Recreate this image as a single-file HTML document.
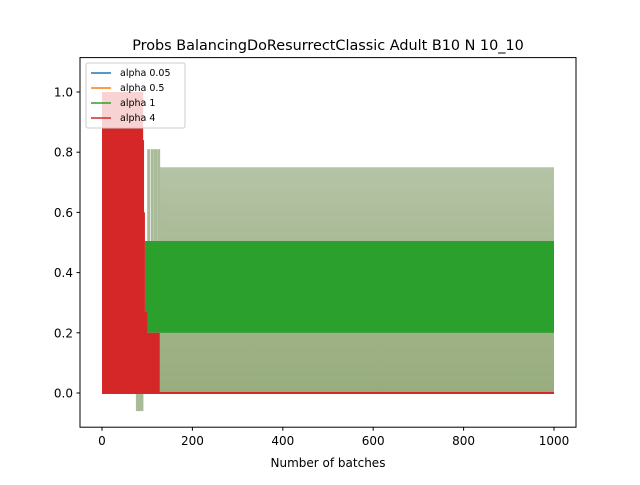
<!DOCTYPE html>
<html><head><meta charset="utf-8"><style>
body{margin:0;background:#fff;font-family:"Liberation Sans","DejaVu Sans",sans-serif}
svg text{font-family:"DejaVu Sans","Liberation Sans",sans-serif}
</style></head><body>
<svg id="chart" width="640" height="480" xmlns="http://www.w3.org/2000/svg">
<defs>
<linearGradient id="bandg" x1="0" y1="0" x2="0" y2="1">
<stop offset="0" stop-color="#b5c4a6"/><stop offset="0.5" stop-color="#a4b68f"/><stop offset="1" stop-color="#98ad7e"/>
</linearGradient>
</defs>
<rect width="640" height="480" fill="#fff"/>
<text x="328" y="50" font-size="14.4" text-anchor="middle">Probs BalancingDoResurrectClassic Adult B10 N 10_10</text>
<g id="plot"></g>
<g id="axes"></g>
<rect x="80" y="57.6" width="496" height="369.6" fill="none" stroke="#000" stroke-width="1"/>
<text x="328" y="467" font-size="12" text-anchor="middle">Number of batches</text>
<g>
<rect x="86" y="63" width="99" height="65" fill="#fff" fill-opacity="0.8" stroke="#ccc" rx="2"/>
<line x1="91" y1="73" x2="111" y2="73" stroke="#1f77b4" stroke-width="1.5"/><text x="120" y="76" font-size="9.5">alpha 0.05</text>
<line x1="91" y1="88" x2="111" y2="88" stroke="#ff7f0e" stroke-width="1.5"/><text x="120" y="91" font-size="9.5">alpha 0.5</text>
<line x1="91" y1="103" x2="111" y2="103" stroke="#2ca02c" stroke-width="1.5"/><text x="120" y="106" font-size="9.5">alpha 1</text>
<line x1="91" y1="118" x2="111" y2="118" stroke="#d62728" stroke-width="1.5"/><text x="120" y="121" font-size="9.5">alpha 4</text>
</g>
</svg>
<script>
const xTicks=[0,200,400,600,800,1000];
const yTicks=[0.0,0.2,0.4,0.6,0.8,1.0];
// faded oscillation envelope (all series overlaid)
const bandX=[128,1000];
const bandLow=[0,0];
const bandHigh=[0.75,0.75];
// spikes near transition
const spikeX=[75,80,85,100,108,115,122];
const spikeHigh=[0.0,0.0,0.0,0.81,0.81,0.81,0.81];
const spikeLow=[-0.06,-0.06,-0.06,0.35,0.35,0.35,0.35];
// green solid band
const greenX=[95,1000];
const greenLow=[0.2,0.2];
const greenHigh=[0.505,0.505];
// red early region steps
const redX=[0,91,93,95,100,128];
const redTop=[1.0,0.84,0.6,0.27,0.2,0.0];
const redEnd=1000;
const X=v=>102+v*0.452, Y=v=>393-v*301;
const ns="http://www.w3.org/2000/svg";
const plot=document.getElementById('plot'), axes=document.getElementById('axes');
function mk(t,a,p){const e=document.createElementNS(ns,t);for(const k in a)e.setAttribute(k,a[k]);(p||plot).appendChild(e);return e;}
// pink faded top over early region
let pk=mk('rect',{x:X(0),y:Y(1.0),width:X(redX[1])-X(0),height:Y(0)-Y(1.0),fill:'#f2caca'});


let b=mk('rect',{x:X(bandX[0]),y:Y(bandHigh[0]),width:X(bandX[1])-X(bandX[0]),height:Y(bandLow[0])-Y(bandHigh[0]),fill:'url(#bandg)'});


spikeX.forEach((s,i)=>{const r=mk('rect',{x:X(s),y:Y(spikeHigh[i]),width:3,height:Y(spikeLow[i])-Y(spikeHigh[i]),fill:'#a9bb98'});

});
let g=mk('rect',{x:X(greenX[0]),y:Y(greenHigh[0]),width:X(greenX[1])-X(greenX[0]),height:Y(greenLow[0])-Y(greenHigh[0]),fill:'#2ca02c'});


let pts=[[X(redX[0]),Y(0)]];
redX.forEach((x,i)=>{pts.push([X(x),Y(redTop[i])]);if(i+1<redX.length)pts.push([X(redX[i+1]),Y(redTop[i])]);});
pts.push([X(redX[redX.length-1]),Y(0)]);
let rp=mk('polygon',{points:pts.map(p=>p.join(',')).join(' '),fill:'#d62728'});


let rl=mk('line',{x1:X(0),y1:Y(0),x2:X(redEnd),y2:Y(0),stroke:'#d62728','stroke-width':2});


xTicks.forEach(t=>{mk('line',{x1:X(t),y1:427.2,x2:X(t),y2:430.7,stroke:'#000'},axes);
const tx=mk('text',{x:X(t),y:445,'font-size':12,'text-anchor':'middle'},axes);tx.textContent=t;

});
yTicks.forEach(t=>{mk('line',{x1:76.5,y1:Y(t),x2:80,y2:Y(t),stroke:'#000'},axes);
const tx=mk('text',{x:73,y:Y(t)+4.5,'font-size':12,'text-anchor':'end'},axes);tx.textContent=t.toFixed(1);

});
</script>
</body></html>
